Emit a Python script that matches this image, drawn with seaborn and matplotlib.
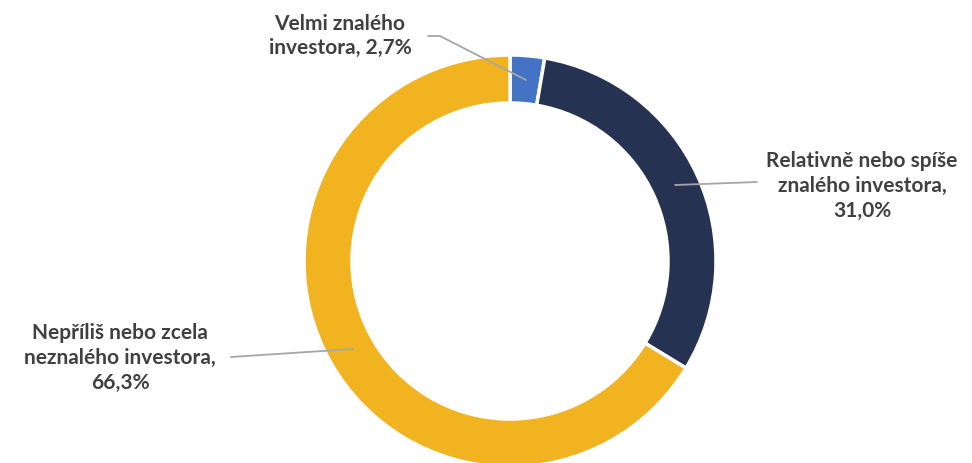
import matplotlib
matplotlib.use("Agg")
import matplotlib.pyplot as plt
import seaborn as sns

labels = ["Velmi znalého\ninvestora, 2,7%",
          "Relativně nebo spíše\nznalého investora,\n31,0%",
          "Nepříliš nebo zcela\nneznalého investora,\n66,3%"]
values = [2.7, 31.0, 66.3]
colors = ["#4472C4", "#263251", "#F2B320"]

sns.set_theme(style="white")
plt.rcParams['font.family'] = ['Lato', 'DejaVu Sans']

W, H = 972, 463
fig = plt.figure(figsize=(W / 100, H / 100), dpi=100)
ax = fig.add_axes([0, 0, 1, 1])

cx, cy, r = 510, H - 261, 206
ax.pie(values, colors=colors, startangle=90, counterclock=False,
       center=(cx, cy), radius=r, frame=True,
       wedgeprops=dict(width=48, edgecolor="white", linewidth=2.5))
ax.set_xlim(0, W)
ax.set_ylim(0, H)
ax.set_aspect("equal")
ax.axis("off")

txt = dict(fontsize=15, fontweight="bold", color="#404040",
           ha="center", va="center", linespacing=1.3)
ax.text(340, H - 36, labels[0], **txt)
ax.text(862, H - 186, labels[1], **txt)
ax.text(120, H - 358, labels[2], **txt)

lc = dict(color="#A6A6A6", lw=1.3)
ax.plot([428, 440, 526], [H - 36, H - 36, H - 80], **lc)
ax.plot([675, 757], [H - 185, H - 182], **lc)
ax.plot([231, 353], [H - 357, H - 349], **lc)

fig.savefig("out.png", dpi=100, facecolor="white")
